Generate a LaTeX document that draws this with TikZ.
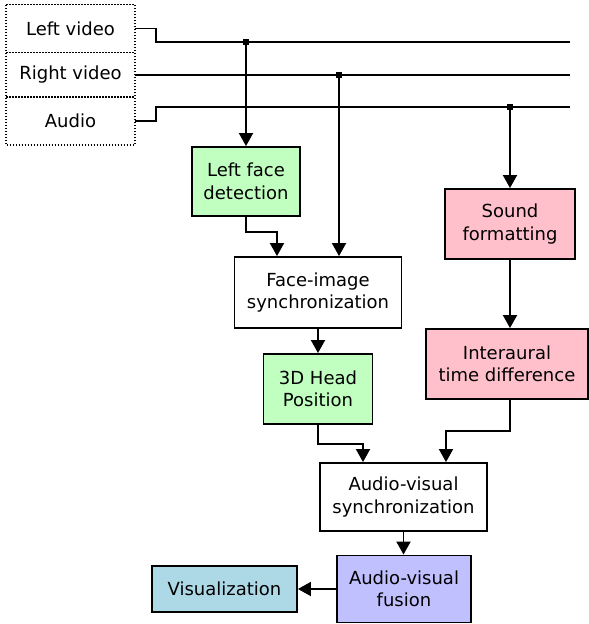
\documentclass[tikz,border=0pt]{standalone}
\usepackage{fontspec}
\setmainfont{DejaVu Sans}
\usetikzlibrary{arrows.meta,calc}
\definecolor{facegreen}{HTML}{C0FFC0}
\definecolor{soundpink}{HTML}{FFC0CB}
\definecolor{fusepurple}{HTML}{C0C0FF}
\definecolor{visblue}{HTML}{ADD8E6}
\tikzset{
  blk/.style={draw, line width=1.9pt, align=center, inner sep=0pt,
    font=\fontsize{18}{22.5}\selectfont},
  src/.style={blk, draw=none, minimum width=127pt, minimum height=46pt},
  dots/.style={line width=1.6pt, dash pattern=on 1.6pt off 1.4pt},
  arr/.style={-{Triangle[length=13pt,width=14pt]}},
  jdot/.style={fill, inner sep=0pt, minimum size=6.5pt}
}
\begin{document}
\begin{tikzpicture}[x=1pt, y=-1pt, line width=1.9pt]
  \useasboundingbox (0,0) rectangle (589,624);
  % inputs
  \node[src] (leftvid) at (70.5,28.5) {Left video};
  \node[src] (rightvid) at (70.5,75) {Right video};
  \node[src] (audio) at (70.5,121) {Audio};
  \draw[dots] (leftvid.north west) rectangle (audio.south east);
  \draw[dots] (leftvid.south west) -- (leftvid.south east);
  \draw[dots] (audio.north west) -- (audio.north east);
  % processing blocks
  \node[blk, fill=facegreen, minimum width=108pt, minimum height=69pt] (lface) at (246,181.5) {Left face\\detection};
  \node[blk, minimum width=167pt, minimum height=71pt] (fisync) at (318,292.5) {Face-image\\synchronization};
  \node[blk, fill=facegreen, minimum width=109pt, minimum height=70pt] (head) at (318,389) {3D Head\\Position};
  \node[blk, fill=soundpink, minimum width=130pt, minimum height=70pt] (sound) at (510,224) {Sound\\formatting};
  \node[blk, fill=soundpink, minimum width=162pt, minimum height=70pt] (itd) at (507,364) {Interaural\\time difference};
  \node[blk, minimum width=167pt, minimum height=68pt] (avsync) at (403.5,497) {Audio-visual\\synchronization};
  \node[blk, fill=fusepurple, minimum width=134pt, minimum height=67pt] (fusion) at (404,589) {Audio-visual\\fusion};
  \node[blk, fill=visblue, minimum width=145pt, minimum height=46pt] (vis) at (224.5,589) {Visualization};
  % signal lines
  \coordinate (lvend) at (570,42);
  \coordinate (rvend) at (570,75);
  \coordinate (auend) at (570,107);
  \draw (leftvid.east) -- ++(21,0) |- (lvend);
  \draw (rightvid.east) -- (rvend);
  \draw (audio.east) -- ++(21,0) |- (auend);
  \node[jdot] (lvj) at (246,42) {};
  \node[jdot] (rvj) at (339,75) {};
  \node[jdot] (auj) at (510,107) {};
  % arrows
  \draw[arr] (lvj.center) -- (lvj |- lface.north);
  \draw[arr] (lface.south) -- ++(0,15) -| ($(fisync.north)+(-41,0)$);
  \draw[arr] (rvj.center) -- (rvj |- fisync.north);
  \draw[arr] (fisync.south) -- (fisync.south |- head.north);
  \draw[arr] (auj.center) -- (auj |- sound.north);
  \draw[arr] (sound.south) -- (sound.south |- itd.north);
  \draw[arr] (head.south) -- ++(0,19) -| ($(avsync.north)+(-40.5,0)$);
  \draw[arr] (sound.south |- itd.south) -- ++(0,31) -| ($(avsync.north)+(42.5,0)$);
  \draw[arr] (avsync.south) -- (avsync.south |- fusion.north);
  \draw[arr] (fusion.west) -- (vis.east);
\end{tikzpicture}
\end{document}
